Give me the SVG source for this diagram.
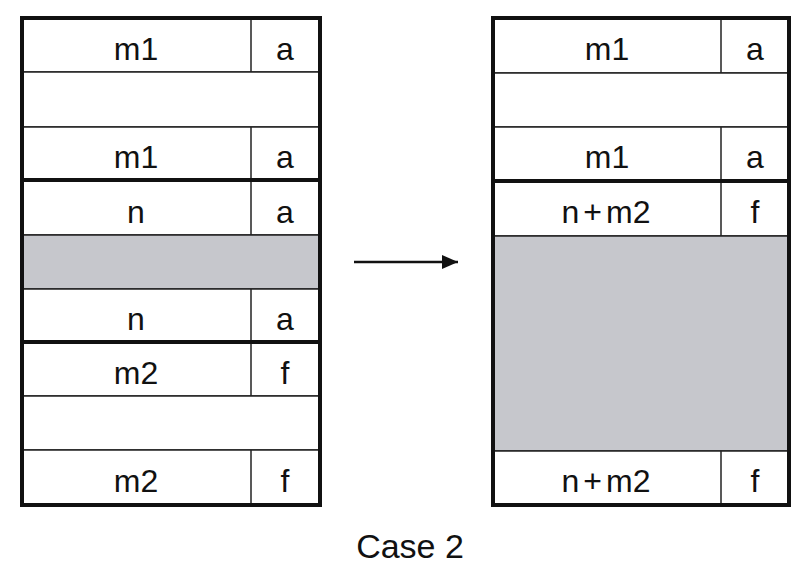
<svg xmlns="http://www.w3.org/2000/svg" width="812" height="572" viewBox="0 0 812 572">
<defs>
<style>
.cell{fill:#fff;stroke:#222;stroke-width:1.5}
.gray{fill:#c6c7cc;stroke:#222;stroke-width:1.5}
.thin{stroke:#222;stroke-width:1.5}
.thick{stroke:#111;stroke-width:4}
.border{fill:none;stroke:#111;stroke-width:4}
.t{font-family:"Liberation Sans",Arial,sans-serif;font-size:32px;fill:#111;text-anchor:middle}
.cap{font-family:"Liberation Sans",Arial,sans-serif;font-size:34px;fill:#111;text-anchor:middle}
</style>
<marker id="ah" viewBox="0 0 16 14" refX="16" refY="7" markerWidth="16" markerHeight="14" orient="auto" markerUnits="userSpaceOnUse">
<path d="M0,0 L16,7 L0,14 Z" fill="#111"/>
</marker>
</defs>
<rect width="812" height="572" fill="#fff"/>

<g id="left">
<g id="L1"><rect class="cell" x="22" y="18" width="298" height="54"/><line class="thin" x1="251" y1="18" x2="251" y2="72"/><text class="t" x="136" y="60">m1</text><text class="t" x="285" y="60">a</text></g>
<g id="L2"><rect class="cell" x="22" y="72" width="298" height="55"/></g>
<g id="L3"><rect class="cell" x="22" y="127" width="298" height="53"/><line class="thin" x1="251" y1="127" x2="251" y2="180"/><text class="t" x="136" y="168">m1</text><text class="t" x="285" y="168">a</text></g>
<g id="L4"><rect class="cell" x="22" y="180" width="298" height="55"/><line class="thin" x1="251" y1="180" x2="251" y2="235"/><text class="t" x="136" y="223">n</text><text class="t" x="285" y="223">a</text></g>
<g id="L5"><rect class="gray" x="22" y="235" width="298" height="54"/></g>
<g id="L6"><rect class="cell" x="22" y="289" width="298" height="53"/><line class="thin" x1="251" y1="289" x2="251" y2="342"/><text class="t" x="136" y="330">n</text><text class="t" x="285" y="330">a</text></g>
<g id="L7"><rect class="cell" x="22" y="342" width="298" height="54"/><line class="thin" x1="251" y1="342" x2="251" y2="396"/><text class="t" x="136" y="384">m2</text><text class="t" x="285" y="384">f</text></g>
<g id="L8"><rect class="cell" x="22" y="396" width="298" height="54"/></g>
<g id="L9"><rect class="cell" x="22" y="450" width="298" height="55"/><line class="thin" x1="251" y1="450" x2="251" y2="505"/><text class="t" x="136" y="492">m2</text><text class="t" x="285" y="492">f</text></g>
<line class="thick" x1="22" y1="180" x2="320" y2="180"/>
<line class="thick" x1="22" y1="342" x2="320" y2="342"/>
<rect class="border" x="22" y="18" width="298" height="487"/>
</g>

<g id="right">
<g id="R1"><rect class="cell" x="493" y="18" width="296" height="55"/><line class="thin" x1="721" y1="18" x2="721" y2="73"/><text class="t" x="607" y="60">m1</text><text class="t" x="755" y="60">a</text></g>
<g id="R2"><rect class="cell" x="493" y="73" width="296" height="54"/></g>
<g id="R3"><rect class="cell" x="493" y="127" width="296" height="54"/><line class="thin" x1="721" y1="127" x2="721" y2="181"/><text class="t" x="607" y="168">m1</text><text class="t" x="755" y="168">a</text></g>
<g id="R4"><rect class="cell" x="493" y="181" width="296" height="55"/><line class="thin" x1="721" y1="181" x2="721" y2="236"/><text class="t" x="606" y="223">n<tspan dx="4">+</tspan><tspan dx="4">m2</tspan></text><text class="t" x="755" y="223">f</text></g>
<g id="R5"><rect class="gray" x="493" y="236" width="296" height="215"/></g>
<g id="R6"><rect class="cell" x="493" y="451" width="296" height="54"/><line class="thin" x1="721" y1="451" x2="721" y2="505"/><text class="t" x="606" y="492">n<tspan dx="4">+</tspan><tspan dx="4">m2</tspan></text><text class="t" x="755" y="492">f</text></g>
<line class="thick" x1="493" y1="181" x2="789" y2="181"/>
<rect class="border" x="493" y="18" width="296" height="487"/>
</g>

<g id="connectors">
<line x1="354" y1="262" x2="458" y2="262" stroke="#111" stroke-width="2.5" marker-end="url(#ah)"/>
</g>

<text class="cap" x="410" y="558">Case 2</text>
</svg>
